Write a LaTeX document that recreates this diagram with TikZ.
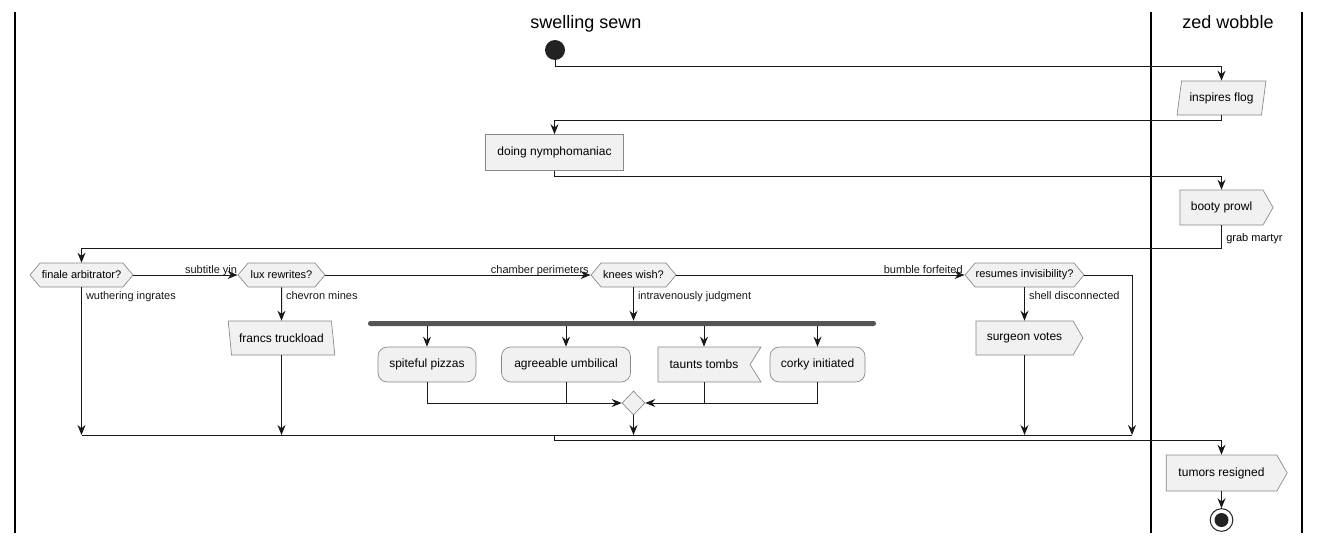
\documentclass[tikz,border=0pt]{standalone}
\usepackage{fontspec}
\setmainfont{Liberation Sans}
\usetikzlibrary{positioning}
\usetikzlibrary{shapes.geometric,shapes.symbols,arrows.meta}
\definecolor{actfill}{HTML}{F1F1F1}
\definecolor{actline}{HTML}{888888}
\definecolor{darkdot}{HTML}{222222}
\definecolor{barfill}{HTML}{555555}
\definecolor{wire}{HTML}{181818}
\tikzset{%
  flow/.style = {-{Stealth[length=7.5pt,width=6pt,inset=2.5pt]},line width=0.75pt,wire},
  wireline/.style = {line width=0.75pt,wire},
  lane/.style = {line width=1.1pt,black},
  lanetitle/.style = {anchor=base,inner sep=0pt,font=\fontsize{13.5}{16}\selectfont},
  lab/.style = {inner sep=0pt,font=\fontsize{8.25}{10}\selectfont},
  act/.style = {draw=actline,fill=actfill,line width=0.5pt,inner sep=0pt,
        minimum height=26.25pt,font=\fontsize{9}{11}\selectfont},
  plainbox/.style = {act,rectangle},
  roundbox/.style = {act,rectangle,rounded corners=7pt},
  inbox/.style = {act,trapezium,trapezium left angle=72,trapezium right angle=108,
        trapezium stretches=true,minimum height=25.5pt},
  outbox/.style = {act,trapezium,trapezium left angle=108,trapezium right angle=72,
        trapezium stretches=true,minimum height=25.5pt},
  sendbox/.style = {act,signal,signal to=east,signal pointer angle=120},
  recvbox/.style = {act,signal,signal to=nowhere,signal from=east,signal pointer angle=116},
  hexa/.style = {act,signal,signal to=west and east,signal pointer angle=100,
        minimum height=18pt,font=\fontsize{8.25}{10}\selectfont},
  forkbar/.style = {rectangle,fill=barfill,rounded corners=1.8pt,inner sep=0pt,
        minimum width=381pt,minimum height=3.75pt},
  mergebox/.style = {diamond,draw=actline,fill=actfill,line width=0.5pt,inner sep=0pt,
        minimum width=17.25pt,minimum height=18pt},
  startdot/.style = {circle,fill=darkdot,inner sep=0pt,minimum size=15pt},
  stopring/.style = {circle,draw=darkdot,fill=white,line width=0.75pt,inner sep=0pt,minimum size=17pt},
  stopdot/.style = {circle,fill=darkdot,inner sep=0pt,minimum size=10.5pt}
}
\begin{document}
\begin{tikzpicture}[x=0.75pt,y=-0.75pt]
\useasboundingbox (0,0) rectangle (1320,543);
% swimlanes
\draw[lane] (15,12) -- (15,533);
\draw[lane] (1151,12) -- (1151,533);
\draw[lane] (1302,12) -- (1302,533);
\node[lanetitle] (tsewn) at (586,28) {swelling sewn};
\node[lanetitle] (twobble) at (1228,28) {zed wobble};

% activities
\node[startdot] (start) at (555,50) {};
\node[inbox,minimum width=66.75pt] (flog) at (1221.5,98) {inspires flog};
\node[plainbox,minimum width=103.5pt,minimum height=27pt] (doing) at (554.5,152.5) {doing nymphomaniac};
\node[sendbox,minimum width=69.75pt] (booty) at (1221.5,207.5) {booty prowl};

\node[hexa,minimum width=77.25pt] (finale) at (81.5,275) {finale arbitrator?};
\node[hexa,minimum width=65.25pt] (lux) at (281.5,275) {lux rewrites?};
\node[hexa,minimum width=63.75pt] (knees) at (633.5,275) {knees wish?};
\node[hexa,minimum width=89.25pt] (resumes) at (1024.5,275) {resumes invisibility?};

\node[outbox,minimum width=80.25pt] (francs) at (281.5,338) {francs truckload};
\node[forkbar] (fork) at (622,323.5) {};
\node[roundbox,minimum width=73.5pt] (spiteful) at (427,364.5) {spiteful pizzas};
\node[roundbox,minimum width=96.75pt] (agreeable) at (566,364.5) {agreeable umbilical};
\node[recvbox,minimum width=77.25pt] (taunts) at (704,364.5) {taunts tombs};
\node[roundbox,minimum width=71.25pt] (corky) at (817.5,364.5) {corky initiated};
\node[mergebox] (merge) at (633.5,403) {};
\node[sendbox,minimum width=80.25pt,minimum height=25.5pt] (surgeon) at (1024.5,338) {surgeon votes};

\node[sendbox,minimum width=90.75pt,minimum height=27pt] (tumors) at (1221.5,473) {tumors resigned};
\node[stopring] (stop) at (1221.5,520) {};
\node[stopdot] (stopin) at (1221.5,520) {};

\coordinate (mergeY) at (0,435);
\coordinate (rbend) at (1132,275);

% connectors
\draw[flow] (start.south) -- ++(0,6) -| (flog.north);
\draw[flow] (flog.south) -- ++(0,5) -| (doing.north);
\draw[flow] (doing.south) -- ++(0,6) -| (booty.north);
\draw[flow] (booty.south) -- ++(0,23) -| (finale.north);
\node[lab,anchor=base west] (lgrab) at (1226,241) {grab martyr};

\draw[flow] (finale.east) -- node[pos=1,lab,anchor=base east,yshift=1.5pt]{subtitle yin} (lux.west);
\draw[flow] (lux.east) -- node[pos=1,lab,anchor=base east,yshift=1.5pt,xshift=-1pt]{chamber perimeters} (knees.west);
\draw[flow] (knees.east) -- node[pos=1,lab,anchor=base east,yshift=1.5pt,xshift=-1pt]{bumble forfeited} (resumes.west);

\draw[flow] (finale.south) -- node[pos=0,lab,anchor=base west,xshift=3pt,yshift=-9pt]{wuthering ingrates} (finale.south |- mergeY);
\draw[flow] (lux.south) -- node[pos=0,lab,anchor=base west,xshift=3pt,yshift=-9pt]{chevron mines} (francs.north);
\draw[flow] (francs.south) -- (francs.south |- mergeY);
\draw[flow] (knees.south) -- node[pos=0,lab,anchor=base west,xshift=3pt,yshift=-9pt]{intravenously judgment} (knees.south |- fork.north);
\draw[flow] (resumes.south) -- node[pos=0,lab,anchor=base west,xshift=3pt,yshift=-9pt]{shell disconnected} (surgeon.north);
\draw[flow] (surgeon.south) -- (surgeon.south |- mergeY);
\draw[flow] (resumes.east) -- (rbend) -- (rbend |- mergeY);

\foreach \act in {spiteful,agreeable,taunts,corky}
  \draw[flow] (\act.north |- fork.south) -- (\act.north);

\draw[flow] (spiteful.south) |- (merge.west);
\draw[wireline] (agreeable.south) -- (agreeable.south |- merge.west);
\draw[flow] (corky.south) |- (merge.east);
\draw[wireline] (taunts.south) -- (taunts.south |- merge.east);
\draw[flow] (merge.south) -- (merge.south |- mergeY);

\draw[wireline] (finale.south |- mergeY) -- (rbend |- mergeY);
\draw[flow] (doing.south |- mergeY) -- ++(0,5) -| (tumors.north);
\draw[flow] (tumors.south) -- (stop.north);
\end{tikzpicture}
\end{document}
